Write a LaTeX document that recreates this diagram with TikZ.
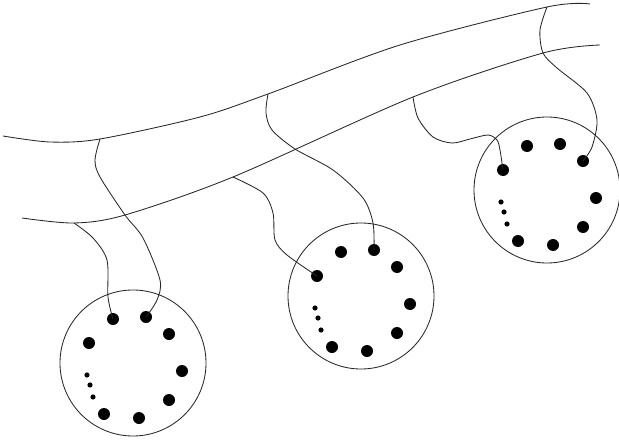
\documentclass[tikz,border=0pt]{standalone}
\usepackage{tikz}

\begin{document}
\begin{tikzpicture}[x=0.025cm, y=-0.025cm, line width=0.6pt, draw=black!85,
    bigdot/.style={circle, fill=black, inner sep=0pt, minimum size=3mm},
    smalldot/.style={circle, fill=black, inner sep=0pt, minimum size=1.3mm}]
    \useasboundingbox (0,0) rectangle (619,440);

    % Junction points on the tube
    \coordinate (ta) at (100,139);
    \coordinate (tb) at (268,94);
    \coordinate (tc) at (547,7);
    \coordinate (la) at (74,223);
    \coordinate (lb) at (233,177);
    \coordinate (lc) at (413,97);

    % Tube, upper and lower edge
    \draw plot[smooth] coordinates {(3,136) (50,142) (ta) (200,117)
        (tb) (400,45) (tc) (590,4)};
    \draw plot[smooth] coordinates {(22,218) (la) (125,215)
        (lb) (lc) (543,53) (600,45)};

    % Discs with their dots
    \foreach \c/\cx/\cy in {a/133/363, b/361/296, c/547/190} {
        \begin{scope}[shift={(\cx,\cy)}]
            \draw (0,0) circle (73);
            \foreach \dx/\dy [count=\i] in {-44/-20, -20/-44, 13/-46, 36/-29,
                                            49/8, 36/37, 6/55, -29/51}
                \node[bigdot] (\c\i) at (\dx,\dy) {};
            \foreach \dx/\dy in {-46/12, -43/22, -40/34}
                \node[smalldot] at (\dx,\dy) {};
        \end{scope}
    }

    % Wires from the tube to the discs
    \draw plot[smooth] coordinates {(ta) (95,160) (100,177) (125,215)
        (143,238) (160,280) (157,300) (a3)};
    \draw plot[smooth] coordinates {(la) (93,238) (107,260) (108,297) (a2)};
    \draw plot[smooth] coordinates {(tb) (266,113) (272,130) (295,149)
        (333,170) (363,198) (373,223) (b3)};
    \draw plot[smooth] coordinates {(lb) (263,193) (273,213) (275,240)
        (287,255) (b1)};
    \draw plot[smooth] coordinates {(lc) (418,118) (433,137) (452,143)
        (470,139) (488,135) (497,140) (500,150) (c1)};
    \draw plot[smooth] coordinates {(tc) (540,30) (543,53) (557,68)
        (587,93) (597,120) (592,147) (c4)};
\end{tikzpicture}
\end{document}
